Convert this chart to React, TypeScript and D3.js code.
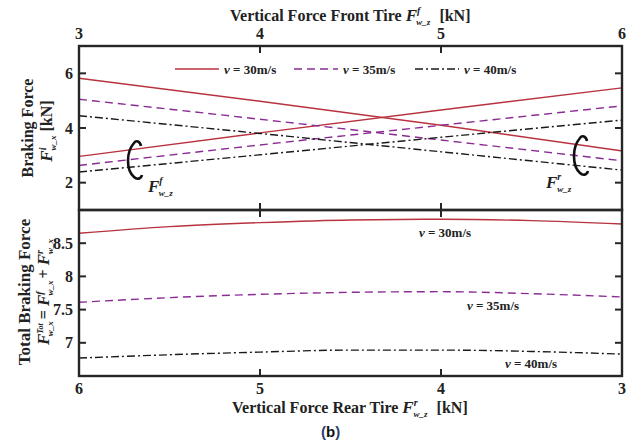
import React from 'react';
import * as d3 from 'd3';

// front tire vertical force [kN] (top panel x)
const frontF = [3, 4, 5, 6];
// braking force lines in top panel (kN)
const topRed30Dec = [5.82, 4.98, 4.1, 3.16];
const topRed30Inc = [2.96, 3.82, 4.66, 5.47];
const topPur35Dec = [5.05, 4.32, 3.56, 2.8];
const topPur35Inc = [2.63, 3.38, 4.1, 4.81];
const topBlk40Dec = [4.45, 3.8, 3.13, 2.46];
const topBlk40Inc = [2.39, 3.02, 3.66, 4.29];

// rear tire vertical force [kN] (bottom panel x, reversed)
const rearF = [6, 5.5, 5, 4.5, 4, 3.5, 3];
const tot30 = [8.65, 8.75, 8.81, 8.85, 8.86, 8.84, 8.79];
const tot35 = [7.61, 7.68, 7.73, 7.76, 7.77, 7.74, 7.69];
const tot40 = [6.77, 6.82, 6.86, 6.89, 6.89, 6.87, 6.83];

const topXTicks = [3, 4, 5, 6];
const topYTicks = [2, 4, 6];
const botXTicks = [6, 5, 4, 3];
const botYTicks = [7, 7.5, 8, 8.5];

const RED = '#b8323f';
const PUR = '#8a2d93';
const BLK = '#1a1a1a';
const AX = '#262626';
const serif = '"Liberation Serif", "Times New Roman", serif';

const L = 79, R = 622;
const T1 = 46, B1 = 210, B2 = 376;

export default function App() {
  const xTop = d3.scaleLinear().domain([3, 6]).range([L, R]);
  const yTop = d3.scaleLinear().domain([1, 7]).range([B1, T1]);
  const xBot = d3.scaleLinear().domain([6, 3]).range([L, R]);
  const yBot = d3.scaleLinear().domain([6.5, 9]).range([B2, B1]);

  const lineTop = (vals: number[]) =>
    d3.line<number>().x((_, i) => xTop(frontF[i])).y(d => yTop(d)).curve(d3.curveMonotoneX)(vals) || '';
  const lineBot = (vals: number[]) =>
    d3.line<number>().x((_, i) => xBot(rearF[i])).y(d => yBot(d)).curve(d3.curveMonotoneX)(vals) || '';

  const styles = [
    { c: RED, dash: undefined as string | undefined },
    { c: PUR, dash: '8,5' },
    { c: BLK, dash: '8,3,2,3' },
  ];
  const topSeries = [
    [topRed30Dec, topRed30Inc],
    [topPur35Dec, topPur35Inc],
    [topBlk40Dec, topBlk40Inc],
  ];
  const botSeries = [tot30, tot35, tot40];
  const legendLabels = ['30', '35', '40'];
  const legendX = [175, 294, 415];

  const tick = 7;
  const fs = 16;

  return (
    <svg width={638} height={443} style={{ position: 'absolute', left: 0, top: 0, background: '#fff' }}
      fontFamily={serif} fontWeight="bold">
      {/* top panel lines */}
      {topSeries.map((pair, k) =>
        pair.map((vals, j) => (
          <path key={`t${k}${j}`} d={lineTop(vals)} fill="none" stroke={styles[k].c}
            strokeWidth={1.4} strokeDasharray={styles[k].dash} />
        ))
      )}
      {/* bottom panel lines */}
      {botSeries.map((vals, k) => (
        <path key={`b${k}`} d={lineBot(vals)} fill="none" stroke={styles[k].c}
          strokeWidth={1.4} strokeDasharray={styles[k].dash} />
      ))}

      {/* frames */}
      <rect x={L} y={T1} width={R - L} height={B1 - T1} fill="none" stroke={AX} strokeWidth={2.4} />
      <rect x={L} y={B1} width={R - L} height={B2 - B1} fill="none" stroke={AX} strokeWidth={2.4} />

      {/* top x ticks (top edge and middle edge) */}
      {topXTicks.map(t => (
        <g key={`tx${t}`}>
          <line x1={xTop(t)} x2={xTop(t)} y1={T1} y2={T1 + tick} stroke={AX} strokeWidth={2} />
          <line x1={xTop(t)} x2={xTop(t)} y1={B1 - tick} y2={B1 + tick} stroke={AX} strokeWidth={2} />
          <text x={xTop(t)} y={39} textAnchor="middle" fontSize={fs} fill="#222">{t}</text>
        </g>
      ))}
      {/* bottom x ticks */}
      {botXTicks.map(t => (
        <g key={`bx${t}`}>
          <line x1={xBot(t)} x2={xBot(t)} y1={B2} y2={B2 - tick} stroke={AX} strokeWidth={2} />
          <text x={xBot(t)} y={394} textAnchor="middle" fontSize={fs} fill="#222">{t}</text>
        </g>
      ))}
      {/* top y ticks */}
      {topYTicks.map(t => (
        <g key={`ty${t}`}>
          <line x1={L} x2={L + tick} y1={yTop(t)} y2={yTop(t)} stroke={AX} strokeWidth={2} />
          <line x1={R} x2={R - tick} y1={yTop(t)} y2={yTop(t)} stroke={AX} strokeWidth={2} />
          <text x={L - 6} y={yTop(t) + 5.5} textAnchor="end" fontSize={fs} fill="#222">{t}</text>
        </g>
      ))}
      {/* bottom y ticks */}
      {botYTicks.map(t => (
        <g key={`by${t}`}>
          <line x1={L} x2={L + tick} y1={yBot(t)} y2={yBot(t)} stroke={AX} strokeWidth={2} />
          <line x1={R} x2={R - tick} y1={yBot(t)} y2={yBot(t)} stroke={AX} strokeWidth={2} />
          <text x={L - 6} y={yBot(t) + 5.5} textAnchor="end" fontSize={fs} fill="#222">{t}</text>
        </g>
      ))}

      {/* legend */}
      {legendX.map((lx, k) => (
        <g key={`lg${k}`}>
          <line x1={lx} x2={lx + 44} y1={69} y2={69} stroke={styles[k].c} strokeWidth={1.6}
            strokeDasharray={styles[k].dash} />
          <text x={lx + 49} y={73.5} fontSize={13} fill="#222">
            <tspan fontStyle="italic">v</tspan> = {legendLabels[k]}m/s
          </text>
        </g>
      ))}

      {/* bottom panel labels */}
      <text x={445} y={237} textAnchor="middle" fontSize={13} fill="#222"><tspan fontStyle="italic">v</tspan> = 30m/s</text>
      <text x={493} y={310} textAnchor="middle" fontSize={13} fill="#222"><tspan fontStyle="italic">v</tspan> = 35m/s</text>
      <text x={531} y={368} textAnchor="middle" fontSize={13} fill="#222"><tspan fontStyle="italic">v</tspan> = 40m/s</text>

      {/* brackets */}
      <path d="M141,146 C140,141 136,140 134,143 C126,152 126,170 134,177 C137,180 141,179 142,175"
        fill="none" stroke="#111" strokeWidth={2.6} />
      <path d="M587,141 C586,136 582,135 580,138 C572,147 572,166 580,173 C583,176 587,175 588,171"
        fill="none" stroke="#111" strokeWidth={2.6} />
      <text x={148} y={192} fontSize={17} fill="#222">
        <tspan fontStyle="italic">F</tspan>
        <tspan fontStyle="italic" fontSize={10} dy={-8}>f</tspan>
        <tspan fontStyle="italic" fontSize={9} dx={-4} dy={12}>w_z</tspan>
      </text>
      <text x={546} y={188} fontSize={17} fill="#222">
        <tspan fontStyle="italic">F</tspan>
        <tspan fontStyle="italic" fontSize={10} dy={-8}>r</tspan>
        <tspan fontStyle="italic" fontSize={9} dx={-4} dy={12}>w_z</tspan>
      </text>

      {/* axis titles */}
      <text x={230} y={21} fontSize={16} fill="#222">
        Vertical Force Front Tire <tspan fontStyle="italic" fontSize={17}>F</tspan>
        <tspan fontStyle="italic" fontSize={10} dy={-7}>f</tspan>
        <tspan fontStyle="italic" fontSize={9} dx={-4} dy={11}>w_z</tspan>
        <tspan dy={-4} dx={9}>[kN]</tspan>
      </text>
      <text x={232} y={413} fontSize={16} fill="#222">
        Vertical Force Rear Tire <tspan fontStyle="italic" fontSize={17}>F</tspan>
        <tspan fontStyle="italic" fontSize={10} dy={-7}>r</tspan>
        <tspan fontStyle="italic" fontSize={9} dx={-4} dy={11}>w_z</tspan>
        <tspan dy={-4} dx={9}>[kN]</tspan>
      </text>

      <g transform="translate(33,128) rotate(-90)">
        <text x={0} y={0} textAnchor="middle" fontSize={16} fill="#222">Braking Force</text>
      </g>
      <g transform="translate(52,131) rotate(-90)">
        <text x={0} y={0} textAnchor="middle" fontSize={16} fill="#222">
          <tspan fontStyle="italic" fontSize={17}>F</tspan>
          <tspan fontStyle="italic" fontSize={10} dy={-6}>i</tspan>
          <tspan fontStyle="italic" fontSize={9} dx={-3} dy={10}>w_x</tspan>
          <tspan dy={-4} dx={4}>[kN]</tspan>
        </text>
      </g>
      <g transform="translate(30,292) rotate(-90)">
        <text x={0} y={0} textAnchor="middle" fontSize={17} fill="#222">Total Braking Force</text>
      </g>
      <g transform="translate(49,292) rotate(-90)">
        <text x={0} y={0} textAnchor="middle" fontSize={16} fill="#222">
          <tspan fontStyle="italic" fontSize={17}>F</tspan>
          <tspan fontStyle="italic" fontSize={8} dy={-6}>Tot</tspan>
          <tspan fontStyle="italic" fontSize={9} dx={-13} dy={10}>w_x</tspan>
          <tspan dy={-4} dx={2}>= </tspan>
          <tspan fontStyle="italic" fontSize={17}>F</tspan>
          <tspan fontStyle="italic" fontSize={10} dy={-6}>f</tspan>
          <tspan fontStyle="italic" fontSize={9} dx={-4} dy={10}>w_x</tspan>
          <tspan dy={-4} dx={2}>+ </tspan>
          <tspan fontStyle="italic" fontSize={17}>F</tspan>
          <tspan fontStyle="italic" fontSize={10} dy={-6}>r</tspan>
          <tspan fontStyle="italic" fontSize={9} dx={-4} dy={10}>w_x</tspan>
        </text>
      </g>

      {/* panel caption */}
      <text x={321} y={437} fontFamily='"Liberation Sans", Arial, sans-serif' fontSize={15} fill="#111">
        <tspan fill="#2b3f73">(</tspan>b<tspan fill="#2b3f73">)</tspan>
      </text>
    </svg>
  );
}
